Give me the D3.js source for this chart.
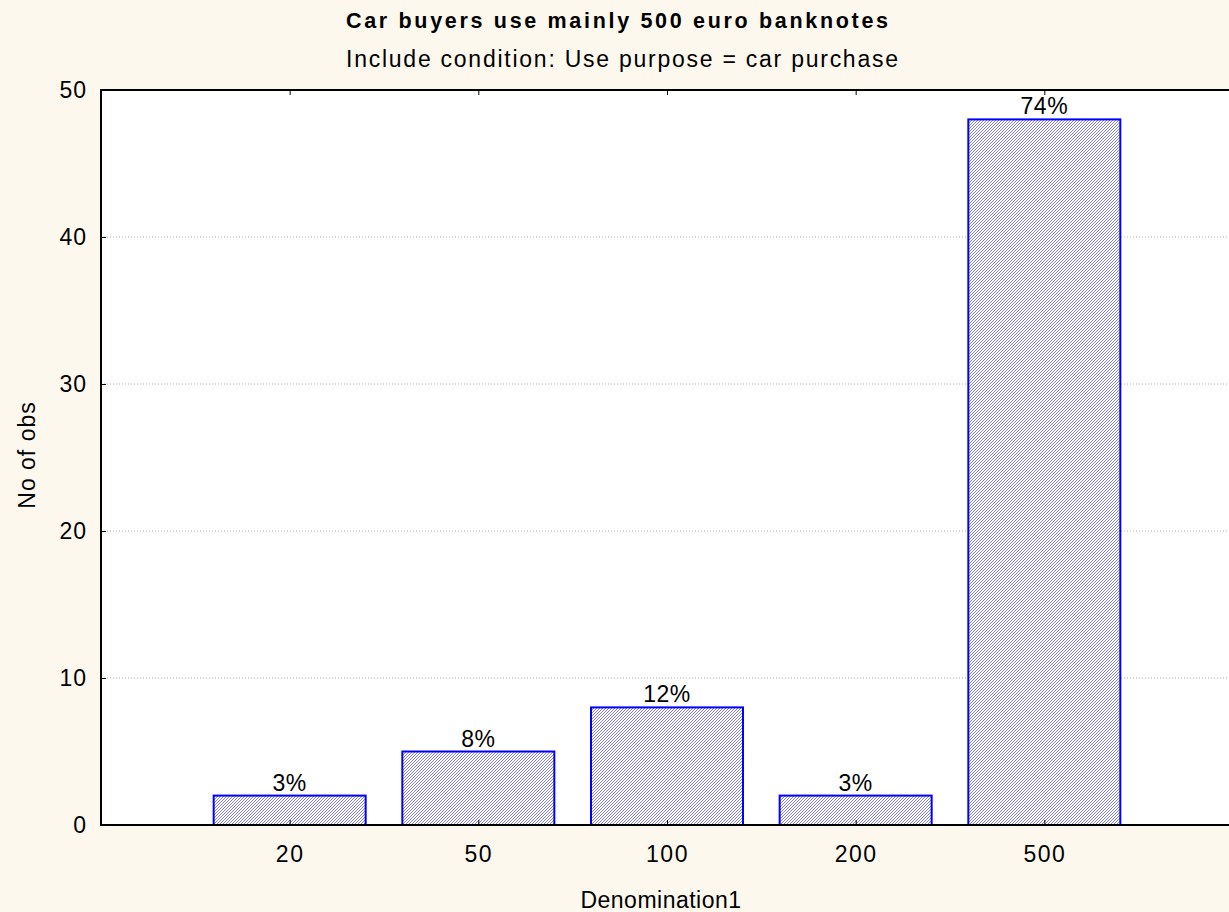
<!DOCTYPE html>
<html><head><meta charset="utf-8">
<script src="https://cdn.jsdelivr.net/npm/d3@7"></script>
<style>body{margin:0;background:#fdf8ee;} svg{display:block;font-family:"Liberation Sans",Arial,sans-serif;}</style>
</head><body>
<svg id="c" width="1229" height="912"></svg>
<script>
const categories = ["20","50","100","200","500"];
const counts = [2,5,8,2,48];
const percentLabels = ["3%","8%","12%","3%","74%"];
const yTicks = [0,10,20,30,40,50];
const title = "Car buyers use mainly 500 euro banknotes";
const subtitle = "Include condition: Use purpose = car purchase";

const FF="Liberation Sans, Arial, sans-serif";
const svg = d3.select("#c");
const W=1229,H=912;
svg.append("rect").attr("width",W).attr("height",H).attr("fill","#fdf8ee");
const m={l:101,t:90,r:1233,b:825};
const defs=svg.append("defs");
const pat=defs.append("pattern").attr("id","hatch").attr("patternUnits","userSpaceOnUse").attr("width",3).attr("height",3);
pat.append("rect").attr("width",3).attr("height",3).attr("fill","#ffffff");
pat.append("path").attr("d","M-1,1 l2,-2 M0,3 l3,-3 M2,4 l2,-2").attr("stroke","#8080f4").attr("stroke-width",1);

const x=d3.scalePoint().domain(["",...categories,"_"]).range([m.l,m.r]);
const y=d3.scaleLinear().domain([0,50]).range([m.b,m.t]);
const bw=152;

svg.append("rect").attr("x",m.l).attr("y",m.t).attr("width",m.r-m.l).attr("height",m.b-m.t).attr("fill","#fff");
// grid
svg.append("g").selectAll("line").data(yTicks.slice(1,-1)).join("line")
 .attr("x1",m.l).attr("x2",m.r).attr("y1",d=>y(d)).attr("y2",d=>y(d))
 .attr("stroke","#b0b0b0").attr("stroke-width",1).attr("stroke-dasharray","1,2");
// bars
svg.append("g").selectAll("rect").data(counts).join("rect")
 .attr("x",(d,i)=>x(categories[i])-bw/2).attr("width",bw)
 .attr("y",d=>y(d)).attr("height",d=>y(0)-y(d))
 .attr("fill","url(#hatch)").attr("stroke","#0000ff").attr("stroke-width",2);
// labels
svg.append("g").selectAll("text").data(counts).join("text")
 .attr("x",(d,i)=>x(categories[i])).attr("y",d=>y(d)-5)
 .attr("text-anchor","middle").attr("font-size",23).attr("letter-spacing",0.5).attr("fill","#000")
 .text((d,i)=>percentLabels[i]);
// frame
svg.append("path").attr("d",`M${m.l},${m.b}V${m.t}H${m.r}`).attr("fill","none").attr("stroke","#000").attr("stroke-width",2);
svg.append("line").attr("x1",m.l-1).attr("x2",m.r).attr("y1",m.b).attr("y2",m.b).attr("stroke","#000").attr("stroke-width",2);
// y axis
const ya=svg.append("g").attr("transform",`translate(${m.l},0)`)
 .call(d3.axisLeft(y).tickValues(yTicks).tickSize(-5).tickPadding(14));
ya.select(".domain").remove();
ya.selectAll("text").attr("font-size",23).attr("letter-spacing",1).attr("fill","#000").attr("font-family",FF);
ya.selectAll("line").attr("stroke","#000");
// x axis
const xa=svg.append("g").attr("transform",`translate(0,${m.b})`)
 .call(d3.axisBottom(x).tickValues(categories).tickSize(-5).tickPadding(21));
xa.select(".domain").remove();
xa.selectAll("text").attr("font-size",23).attr("letter-spacing",1.5).attr("fill","#000").attr("font-family",FF);
xa.selectAll("line").attr("stroke","#000");
const xt=svg.append("g").attr("transform",`translate(0,${m.t})`)
 .call(d3.axisTop(x).tickValues(categories).tickSize(-5).tickFormat(""));
xt.select(".domain").remove();
xt.selectAll("line").attr("stroke","#000");
// titles
svg.append("text").attr("x",617).attr("y",28).attr("text-anchor","middle").attr("font-weight","bold").attr("font-size",21.5)
 .attr("textLength",542).attr("lengthAdjust","spacing").text(title);
svg.append("text").attr("x",622).attr("y",67).attr("text-anchor","middle").attr("font-size",23)
 .attr("textLength",552).attr("lengthAdjust","spacing").text(subtitle);
svg.append("text").attr("x",661).attr("y",908).attr("text-anchor","middle").attr("font-size",23).attr("letter-spacing",0.5).text("Denomination1");
svg.append("text").attr("transform","translate(35,455) rotate(-90)").attr("text-anchor","middle").attr("font-size",23).attr("letter-spacing",1).text("No of obs");
</script></body></html>
